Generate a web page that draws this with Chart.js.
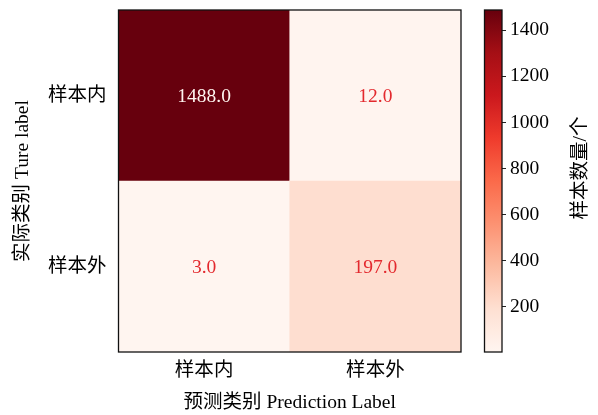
<!DOCTYPE html>
<html>
<head>
<meta charset="utf-8">
<script src="https://cdn.jsdelivr.net/npm/chart.js@4/dist/chart.umd.min.js"></script>
<style>
  html, body { margin: 0; padding: 0; background: #fff; }
  #wrap { position: relative; width: 598px; height: 415px; overflow: hidden; }
  canvas { position: absolute; top: 0; }
  #cm { left: 0; }
  #cb { left: 470px; }
</style>
</head>
<body>
<div id="wrap">
  <canvas id="cm" width="470" height="415"></canvas>
  <canvas id="cb" width="128" height="415"></canvas>
</div>
<script>
// Confusion matrix: rows = true class, columns = predicted class
const predLabels = ['样本内', '样本外'];
const trueLabels = ['样本内', '样本外'];
const rowIn  = [1488, 12];   // true 样本内
const rowOut = [3, 197];     // true 样本外
const cbTicks = [200, 400, 600, 800, 1000, 1200, 1400];

const xTitle = '预测类别 Prediction Label';
const yTitle = '实际类别 Ture label';
const cbTitle = '样本数量/个';

const FONT = "'Liberation Serif', 'Times New Roman', 'Noto Sans CJK SC', serif";
const FS = 19.5;

// "Reds" colour map
const redsStops = ['#fff5f0', '#fee0d2', '#fcbba1', '#fc9272', '#fb6a4a', '#ef3b2c', '#cb181d', '#a50f15', '#67000d'];
function hexToRgb(h) {
  return [parseInt(h.slice(1, 3), 16), parseInt(h.slice(3, 5), 16), parseInt(h.slice(5, 7), 16)];
}
function reds(t) {
  t = Math.max(0, Math.min(1, t));
  const n = redsStops.length - 1;
  const i = Math.min(Math.floor(t * n), n - 1);
  const f = t * n - i;
  const a = hexToRgb(redsStops[i]), b = hexToRgb(redsStops[i + 1]);
  const c = a.map((v, k) => Math.round(v + (b[k] - v) * f));
  return `rgb(${c[0]},${c[1]},${c[2]})`;
}

const allValues = rowIn.concat(rowOut);
const vmin = Math.min(...allValues);
const vmax = Math.max(...allValues);
const norm = v => (v - vmin) / (vmax - vmin);
const thresh = (vmin + vmax) / 2;

// frame around a chart area
const framePlugin = {
  id: 'frame',
  afterDraw(chart) {
    const { ctx, chartArea: a } = chart;
    ctx.save();
    ctx.strokeStyle = '#111';
    ctx.lineWidth = 1.3;
    ctx.strokeRect(a.left, a.top, a.right - a.left, a.bottom - a.top);
    ctx.restore();
  }
};

// value annotation in each cell
const cellTextPlugin = {
  id: 'cellText',
  afterDatasetsDraw(chart) {
    const { ctx } = chart;
    ctx.save();
    ctx.font = `${FS}px ${FONT}`;
    ctx.textAlign = 'center';
    ctx.textBaseline = 'middle';
    chart.data.datasets.forEach((ds, di) => {
      const meta = chart.getDatasetMeta(di);
      meta.data.forEach((el, i) => {
        const v = ds.counts[i];
        const { x, y, base } = el.getProps(['x', 'y', 'base'], true);
        ctx.fillStyle = v > thresh ? '#fff5f0' : '#e3292e';
        ctx.fillText(v.toFixed(1), x, (y + base) / 2 + 1);
      });
    });
    ctx.restore();
  }
};

new Chart(document.getElementById('cm'), {
  type: 'bar',
  data: {
    labels: predLabels,
    datasets: [
      { label: trueLabels[1], counts: rowOut, data: rowOut.map(() => 1),
        backgroundColor: rowOut.map(v => reds(norm(v))) },
      { label: trueLabels[0], counts: rowIn, data: rowIn.map(() => 1),
        backgroundColor: rowIn.map(v => reds(norm(v))) }
    ]
  },
  options: {
    responsive: false,
    animation: false,
    devicePixelRatio: 1,
    layout: { padding: { left: 0, top: 10, right: 9, bottom: 0 } },
    datasets: { bar: { barPercentage: 1, categoryPercentage: 1, borderWidth: 0 } },
    plugins: { legend: { display: false }, tooltip: { enabled: false } },
    scales: {
      x: {
        stacked: true,
        grid: { display: false, drawTicks: false },
        border: { display: false },
        ticks: { color: '#000', padding: 7.5, font: { family: FONT, size: FS } },
        title: { display: true, text: xTitle, color: '#000',
                 font: { family: FONT, size: FS }, padding: { top: 0, bottom: 0 } },
        afterFit(s) { s.height = 63; s.paddingLeft = 0; s.paddingRight = 0; }
      },
      y: {
        stacked: true,
        min: 0, max: 2,
        grid: { display: false, drawTicks: false },
        border: { display: false },
        afterBuildTicks(s) { s.ticks = [{ value: 0.5 }, { value: 1.5 }]; },
        ticks: {
          color: '#000', padding: 12, font: { family: FONT, size: FS },
          callback: v => trueLabels[Math.round(1.5 - v)]
        },
        title: { display: true, text: yTitle, color: '#000',
                 font: { family: FONT, size: FS }, padding: { top: 11.5, bottom: 0 } },
        afterFit(s) { s.width = 118.5; s.paddingTop = 0; s.paddingBottom = 0; }
      }
    }
  },
  plugins: [cellTextPlugin, framePlugin]
});

// colour bar
const cbTitlePlugin = {
  id: 'cbTitle',
  afterDraw(chart) {
    const { ctx } = chart;
    ctx.save();
    ctx.translate(111, 168);
    ctx.rotate(-Math.PI / 2);
    ctx.font = `${FS}px ${FONT}`;
    ctx.fillStyle = '#000';
    ctx.textAlign = 'center';
    ctx.textBaseline = 'middle';
    ctx.fillText(cbTitle, 0, 0);
    ctx.restore();
  }
};

new Chart(document.getElementById('cb'), {
  type: 'bar',
  data: {
    labels: [''],
    datasets: [{
      data: [[vmin, vmax]],
      borderWidth: 0,
      backgroundColor(context) {
        const a = context.chart.chartArea;
        if (!a) return reds(0.5);
        const g = context.chart.ctx.createLinearGradient(0, a.bottom, 0, a.top);
        for (let k = 0; k <= 32; k++) g.addColorStop(k / 32, reds(k / 32));
        return g;
      }
    }]
  },
  options: {
    responsive: false,
    animation: false,
    devicePixelRatio: 1,
    layout: { padding: { left: 14.5, top: 10, right: 0, bottom: 63 } },
    datasets: { bar: { barPercentage: 1, categoryPercentage: 1 } },
    plugins: { legend: { display: false }, tooltip: { enabled: false } },
    scales: {
      x: { display: false },
      y: {
        position: 'right',
        min: vmin, max: vmax,
        grid: { display: true, drawOnChartArea: false, drawTicks: true,
                tickLength: 4, color: '#222', lineWidth: 1 },
        border: { display: false },
        afterBuildTicks(s) { s.ticks = cbTicks.map(v => ({ value: v })); },
        ticks: { color: '#000', padding: 4, font: { family: FONT, size: FS },
                 callback: v => String(v) },
        afterFit(s) { s.width = 96; s.paddingTop = 0; s.paddingBottom = 0; }
      }
    }
  },
  plugins: [framePlugin, cbTitlePlugin]
});
</script>
</body>
</html>
